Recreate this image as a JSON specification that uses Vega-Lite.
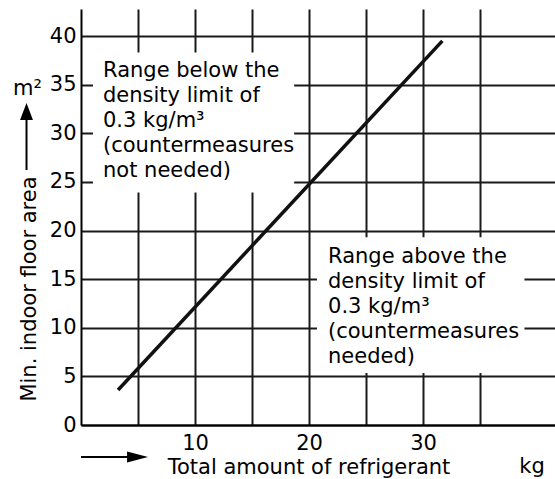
{
  "$schema": "https://vega.github.io/schema/vega-lite/v6.json",
  "width": 474,
  "height": 416,
  "autosize": "none",
  "padding": {"left": 81, "top": 9, "right": 0, "bottom": 54},
  "background": "white",
  "config": {"view": {"stroke": null}, "font": "DejaVu Sans"},
  "datasets": {
    "line": [{"amount": 3.25, "area": 3.6}, {"amount": 31.7, "area": 39.5}],
    "boxes": [
      {"x1": 1.05, "x2": 18.7, "y1": 23.9, "y2": 38.3},
      {"x1": 20.7, "x2": 38.9, "y1": 5.35, "y2": 19.3}
    ],
    "notes": [
      {"x": 1.93, "y": 35.78, "label": "Range below the\ndensity limit of\n0.3 kg/m³\n(countermeasures\nnot needed)"},
      {"x": 21.67, "y": 16.66, "label": "Range above the\ndensity limit of\n0.3 kg/m³\n(countermeasures\nneeded)"}
    ]
  },
  "layer": [
    {
      "data": {"name": "boxes"},
      "mark": {"type": "rect", "color": "white", "opacity": 1},
      "encoding": {
        "x": {
          "field": "x1", "type": "quantitative",
          "scale": {"domain": [0, 41.58], "nice": false, "zero": false},
          "axis": {
            "values": [5, 10, 15, 20, 25, 30, 35], "ticks": false,
            "labelExpr": "datum.value % 10 === 0 ? datum.label : ''", "labelOverlap": false,
            "grid": true, "gridColor": "#1a1a1a", "gridWidth": 2, "gridOpacity": 1,
            "labelFontSize": 21, "labelColor": "black", "labelPadding": 7,
            "domainColor": "black", "domainWidth": 2,
            "title": "Total amount of refrigerant", "titleFontSize": 21,
            "titleFontWeight": "normal", "titleColor": "black",
            "titleX": 227.5, "titleY": 48, "titleAlign": "center", "titleBaseline": "alphabetic"
          }
        },
        "x2": {"field": "x2"},
        "y": {
          "field": "y1", "type": "quantitative",
          "scale": {"domain": [0, 42.78], "nice": false, "zero": false},
          "axis": {
            "values": [0, 5, 10, 15, 20, 25, 30, 35, 40], "ticks": false, "labelOverlap": false,
            "grid": true, "gridColor": "#1a1a1a", "gridWidth": 2, "gridOpacity": 1,
            "labelFontSize": 21, "labelColor": "black", "labelPadding": 5,
            "domainColor": "black", "domainWidth": 2,
            "title": "Min. indoor floor area", "titleFontSize": 21,
            "titleFontWeight": "normal", "titleColor": "black", "titleAngle": 270,
            "titleX": -46, "titleY": 279.5, "titleAlign": "center", "titleBaseline": "alphabetic"
          }
        },
        "y2": {"field": "y2"}
      }
    },
    {
      "data": {"name": "notes"},
      "mark": {"type": "text", "align": "left", "baseline": "alphabetic", "fontSize": 21, "lineHeight": 25, "lineBreak": "\n", "color": "black"},
      "encoding": {
        "x": {"field": "x", "type": "quantitative"},
        "y": {"field": "y", "type": "quantitative"},
        "text": {"field": "label"}
      }
    },
    {
      "data": {"name": "line"},
      "mark": {"type": "line", "color": "#111111", "strokeWidth": 3.5, "strokeCap": "butt"},
      "encoding": {
        "x": {"field": "amount", "type": "quantitative"},
        "y": {"field": "area", "type": "quantitative"}
      }
    },
    {
      "data": {"values": [{}]},
      "mark": {"type": "rule", "color": "black", "strokeWidth": 2},
      "encoding": {
        "x": {"datum": 0, "type": "quantitative"},
        "x2": {"datum": 4.3},
        "y": {"datum": -3.29, "type": "quantitative"}
      }
    },
    {
      "data": {"values": [{}]},
      "mark": {"type": "point", "shape": "M-1,-0.52L1,0L-1,0.52Z", "size": 441, "filled": true, "color": "black", "opacity": 1, "strokeWidth": 0},
      "encoding": {
        "x": {"datum": 4.96, "type": "quantitative"},
        "y": {"datum": -3.29, "type": "quantitative"}
      }
    },
    {
      "data": {"values": [{}]},
      "mark": {"type": "rule", "color": "black", "strokeWidth": 2},
      "encoding": {
        "x": {"datum": -4.78, "type": "quantitative"},
        "y": {"datum": 26.22, "type": "quantitative"},
        "y2": {"datum": 31.88}
      }
    },
    {
      "data": {"values": [{}]},
      "mark": {"type": "point", "shape": "M-0.76,1L0,-1L0.76,1Z", "size": 289, "filled": true, "color": "black", "opacity": 1, "strokeWidth": 0},
      "encoding": {
        "x": {"datum": -4.78, "type": "quantitative"},
        "y": {"datum": 32.24, "type": "quantitative"}
      }
    },
    {
      "data": {"values": [{}]},
      "mark": {"type": "text", "align": "center", "baseline": "alphabetic", "fontSize": 21, "color": "black", "text": "m²"},
      "encoding": {
        "x": {"datum": -4.69, "type": "quantitative"},
        "y": {"datum": 33.93, "type": "quantitative"}
      }
    },
    {
      "data": {"values": [{}]},
      "mark": {"type": "text", "align": "center", "baseline": "alphabetic", "fontSize": 21, "color": "black", "text": "kg"},
      "encoding": {
        "x": {"datum": 39.56, "type": "quantitative"},
        "y": {"datum": -4.94, "type": "quantitative"}
      }
    }
  ]
}
